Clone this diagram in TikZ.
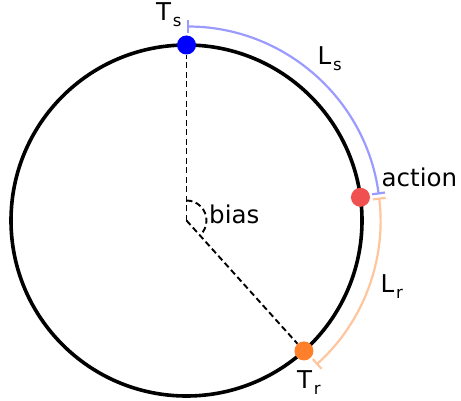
\documentclass[tikz,border=0pt]{standalone}
\usepackage{fontspec}
\setmainfont{DejaVu Sans}
\usetikzlibrary{arrows.meta}
\definecolor{arcblue}{RGB}{155,155,255}
\definecolor{arcorange}{RGB}{255,198,158}
\definecolor{dotred}{RGB}{240,80,80}
\definecolor{dotorange}{RGB}{255,127,42}
\newcommand{\lblsub}[1]{\hspace{1.8pt}\raisebox{-6pt}{\fontsize{16.5}{16.5}\selectfont #1}}
\begin{document}
\begin{tikzpicture}[x=1pt,y=1pt,
  dot/.style={circle,inner sep=0pt,minimum size=19pt},
  lbl/.style={anchor=base west,inner sep=0pt,font=\fontsize{24.5}{24.5}\selectfont},
  dashline/.style={dash pattern=on 6pt off 3.5pt,line width=1.9pt},
  spanline/.style={line width=2.2pt,arrows={Bar[width=13pt,line width=2.2pt]-Bar[width=13pt,line width=2.2pt]}}]
\useasboundingbox (0,0) rectangle (461,400);
\coordinate (C) at (186.5,179.5);
\node[circle,draw,line width=3.6pt,minimum size=351pt,inner sep=0pt] (ring) at (C) {};
\node[dot,fill=blue] (ts) at ([shift={(90:175.5)}]C) {};
\node[dot,fill=dotred] (act) at ([shift={(7.6:175.5)}]C) {};
\node[dot,fill=dotorange] (tr) at ([shift={(-48:175.5)}]C) {};
\draw[dashline] (C) -- (ts);
\draw[dashline] (C) -- (tr);
\draw[dashline] ([shift={(90:20)}]C) arc[start angle=90,end angle=-48,radius=20];
\draw[arcblue,spanline] ([shift={(90:194)}]C) arc[start angle=90,end angle=7.7,radius=194];
\draw[arcorange,spanline] ([shift={(6.8:194)}]C) arc[start angle=6.8,end angle=-48,radius=194];
\node[lbl] (tslbl) at (156,379.5) {T\lblsub{s}};
\node[lbl] (lslbl) at (317.5,335) {L\lblsub{s}};
\node[lbl] (actlbl) at (381.5,214) {action};
\node[lbl] (lrlbl) at (380.5,108) {L\lblsub{r}};
\node[lbl] (trlbl) at (297,12) {T\lblsub{r}};
\node[lbl] (biaslbl) at (209,177) {bias};
\end{tikzpicture}
\end{document}
